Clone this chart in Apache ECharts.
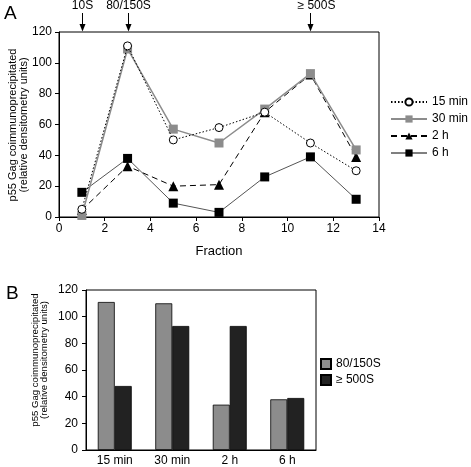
<!DOCTYPE html>
<html>
<head>
<meta charset="utf-8">
<script src="https://cdn.jsdelivr.net/npm/echarts@6/dist/echarts.min.js"></script>
<style>
html,body{margin:0;padding:0;background:#fff;}
#c{width:471px;height:467px;}
</style>
</head>
<body>
<div id="c"></div>
<script>
// ---- Panel A data ----
const fractions = [1, 3, 5, 7, 9, 11, 13];
const min15 = [5, 111, 50, 58, 68, 48, 30];
const min30 = [1, 109, 57, 48, 70, 93, 43.5];
const h2 = [4.5, 33, 20, 21, 68, 92.5, 39];
const h6 = [16, 38, 9, 3, 26, 39, 11.5];
const lineNames = ['15 min', '30 min', '2 h', '6 h'];
const annotFractions = [1, 3, 11];
const annotLabels = ['10S', '80/150S', '≥ 500S'];

// ---- Panel B data ----
const timepoints = ['15 min', '30 min', '2 h', '6 h'];
const s80 = [111, 110, 34, 38];
const s500 = [48, 93, 93, 39];
const barNames = ['80/150S', '≥ 500S'];

const FONT = 'Liberation Sans, Arial, Helvetica, sans-serif';
const pair = (xs, ys) => xs.map((x, i) => [x, ys[i]]);

const chart = echarts.init(document.getElementById('c'), null, {renderer: 'canvas'});

const option = {
  backgroundColor: '#fff',
  animation: false,
  textStyle: {fontFamily: FONT, color: '#000'},
  grid: [
    {left: 59, top: 32, width: 320, height: 185, show: true, borderColor: '#000', borderWidth: 1, backgroundColor: 'transparent'},
    {left: 86, top: 290, width: 230, height: 160, show: true, borderColor: '#000', borderWidth: 1, backgroundColor: 'transparent'}
  ],
  xAxis: [
    {
      type: 'value', gridIndex: 0, min: 0, max: 14, interval: 2,
      axisLine: {lineStyle: {color: '#000', width: 1}},
      axisTick: {show: true, length: 4, inside: false, lineStyle: {color: '#000'}},
      axisLabel: {color: '#000', fontSize: 12, fontFamily: FONT, margin: 6},
      splitLine: {show: false},
      name: 'Fraction', nameLocation: 'middle', nameGap: 28,
      nameTextStyle: {fontSize: 13, color: '#000', fontFamily: FONT}
    },
    {
      type: 'category', gridIndex: 1, data: timepoints,
      axisLine: {lineStyle: {color: '#000', width: 1}},
      axisTick: {show: false},
      axisLabel: {color: '#000', fontSize: 12, fontFamily: FONT, margin: 5},
      splitLine: {show: false}
    }
  ],
  yAxis: [
    {
      type: 'value', gridIndex: 0, min: 0, max: 120, interval: 20,
      axisLine: {show: true, lineStyle: {color: '#000', width: 1}},
      axisTick: {show: true, length: 4, lineStyle: {color: '#000'}},
      axisLabel: {color: '#000', fontSize: 12, fontFamily: FONT, margin: 7},
      splitLine: {show: false}
    },
    {
      type: 'value', gridIndex: 1, min: 0, max: 120, interval: 20,
      axisLine: {show: true, lineStyle: {color: '#000', width: 1}},
      axisTick: {show: true, length: 4, lineStyle: {color: '#000'}},
      axisLabel: {color: '#000', fontSize: 12, fontFamily: FONT, margin: 8},
      splitLine: {show: false}
    }
  ],
  legend: [
    {
      data: [
        {name: lineNames[0]},
        {name: lineNames[1]},
        {name: lineNames[2]},
        {name: lineNames[3], lineStyle: {color: '#000', width: 1}}
      ],
      orient: 'vertical', left: 390, top: 96, width: 81,
      itemWidth: 36, itemHeight: 9, itemGap: 5,
      textStyle: {fontSize: 12, color: '#000', fontFamily: FONT, overflow: 'none'},
      padding: 0,
      selectedMode: false
    },
    {
      data: barNames, orient: 'vertical', left: 320, top: 358,
      itemWidth: 10, itemHeight: 10, itemGap: 4, icon: 'rect', padding: 0,
      textStyle: {fontSize: 12, color: '#000', fontFamily: FONT},
      selectedMode: false
    }
  ],
  series: [
    {
      name: '6 h', type: 'line', xAxisIndex: 0, yAxisIndex: 0,
      data: pair(fractions, h6), symbol: 'rect', symbolSize: 9,
      lineStyle: {color: '#555', width: 1, type: 'solid'},
      itemStyle: {color: '#000', borderColor: '#000', borderWidth: 0}, z: 2
    },
    {
      name: '2 h', type: 'line', xAxisIndex: 0, yAxisIndex: 0,
      data: pair(fractions, h2), symbol: 'triangle', symbolSize: 10,
      lineStyle: {color: '#000', width: 1, type: [6, 4]},
      itemStyle: {color: '#000', borderWidth: 0}, z: 3
    },
    {
      name: '30 min', type: 'line', xAxisIndex: 0, yAxisIndex: 0,
      data: pair(fractions, min30), symbol: 'rect', symbolSize: 9,
      lineStyle: {color: '#8c8c8c', width: 1.5, type: 'solid'},
      itemStyle: {color: '#8c8c8c', borderWidth: 0}, z: 4
    },
    {
      name: '15 min', type: 'line', xAxisIndex: 0, yAxisIndex: 0,
      data: pair(fractions, min15), symbol: 'circle', symbolSize: 8,
      lineStyle: {color: '#000', width: 1, type: [1.5, 2]},
      itemStyle: {color: '#fff', borderColor: '#000', borderWidth: 1}, z: 5
    },
    {
      name: barNames[0], type: 'bar', xAxisIndex: 1, yAxisIndex: 1,
      data: s80, barGap: '0%', barCategoryGap: '41%',
      itemStyle: {color: '#8c8c8c', borderColor: '#000', borderWidth: 0.8}
    },
    {
      name: barNames[1], type: 'bar', xAxisIndex: 1, yAxisIndex: 1,
      data: s500, barGap: '0%', barCategoryGap: '41%',
      itemStyle: {color: '#222', borderColor: '#000', borderWidth: 0.8}
    }
  ]
};

chart.setOption(option);

// annotations (arrows) placed via the axes
const g = [];
annotFractions.forEach((f, i) => {
  const p = chart.convertToPixel({xAxisIndex: 0, yAxisIndex: 0}, [f, 120]);
  const px = Math.round(p[0]) + 0.5, py = p[1];
  g.push({type: 'line', shape: {x1: px, y1: 13, x2: px, y2: py - 4}, style: {stroke: '#000', lineWidth: 1}, silent: true});
  g.push({type: 'polygon', shape: {points: [[px - 3, py - 8], [px + 3, py - 8], [px, py - 0.5]]}, style: {fill: '#000'}, silent: true});
  const dx = i === 2 ? 6 : 0;
  g.push({type: 'text', x: px + dx, y: 6, style: {text: annotLabels[i], font: '12px ' + FONT, fill: '#000', align: 'center', verticalAlign: 'middle'}, silent: true});
});
// panel letters
g.push({type: 'text', x: 4, y: 4, style: {text: 'A', font: '19px ' + FONT, fill: '#000'}});
g.push({type: 'text', x: 6, y: 284, style: {text: 'B', font: '19px ' + FONT, fill: '#000'}});
// y-axis titles
g.push({type: 'text', x: 18.5, y: 125, rotation: Math.PI / 2,
  style: {text: 'p55 Gag coimmunoprecipitated\n(relative densitometry units)', font: '11px ' + FONT, lineHeight: 11.5, fill: '#000', align: 'center', verticalAlign: 'middle'}});
g.push({type: 'text', x: 40, y: 360, rotation: Math.PI / 2,
  style: {text: 'p55 Gag coimmunoprecipitated\n(relative densitometry units)', font: '9.6px ' + FONT, lineHeight: 9.5, fill: '#000', align: 'center', verticalAlign: 'middle'}});

chart.setOption({graphic: g});
</script>
</body>
</html>
